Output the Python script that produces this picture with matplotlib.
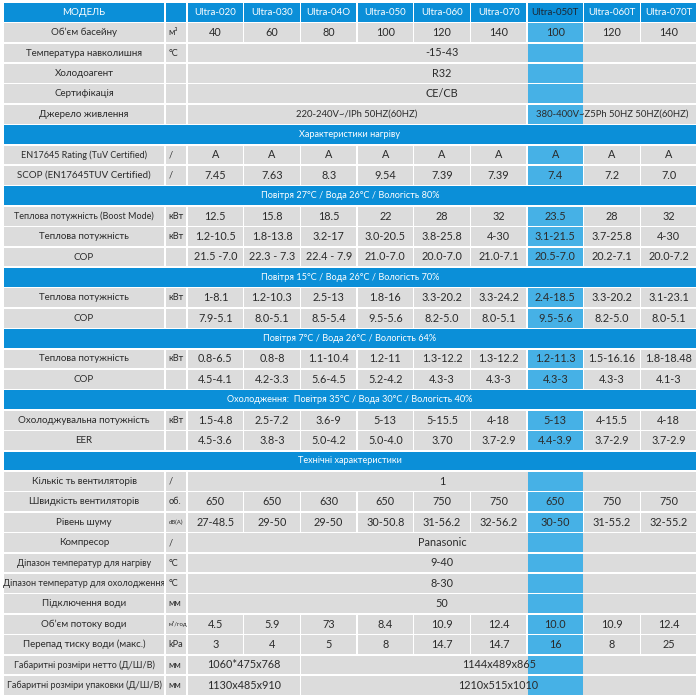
import matplotlib
matplotlib.use("Agg")
import matplotlib.pyplot as plt
from matplotlib.patches import Rectangle
from matplotlib.transforms import Bbox, TransformedBbox

plt.rcParams['font.family'] = ['Lato', 'DejaVu Sans']

# моделі
models = ["Ultra-020", "Ultra-030", "Ultra-04O", "Ultra-050", "Ultra-060",
          "Ultra-070", "Ultra-050T", "Ultra-060T", "Ultra-070T"]
highlight = 6

# дані по рядках
pool_volume = ["40", "60", "80", "100", "120", "140", "100", "120", "140"]
rating = ["A"] * 9
scop = ["7.45", "7.63", "8.3", "9.54", "7.39", "7.39", "7.4", "7.2", "7.0"]
boost_27 = ["12.5", "15.8", "18.5", "22", "28", "32", "23.5", "28", "32"]
heat_27 = ["1.2-10.5", "1.8-13.8", "3.2-17", "3.0-20.5", "3.8-25.8", "4-30", "3.1-21.5", "3.7-25.8", "4-30"]
cop_27 = ["21.5 -7.0", "22.3 - 7.3", "22.4 - 7.9", "21.0-7.0", "20.0-7.0", "21.0-7.1", "20.5-7.0", "20.2-7.1", "20.0-7.2"]
heat_15 = ["1-8.1", "1.2-10.3", "2.5-13", "1.8-16", "3.3-20.2", "3.3-24.2", "2.4-18.5", "3.3-20.2", "3.1-23.1"]
cop_15 = ["7.9-5.1", "8.0-5.1", "8.5-5.4", "9.5-5.6", "8.2-5.0", "8.0-5.1", "9.5-5.6", "8.2-5.0", "8.0-5.1"]
heat_7 = ["0.8-6.5", "0.8-8", "1.1-10.4", "1.2-11", "1.3-12.2", "1.3-12.2", "1.2-11.3", "1.5-16.16", "1.8-18.48"]
cop_7 = ["4.5-4.1", "4.2-3.3", "5.6-4.5", "5.2-4.2", "4.3-3", "4.3-3", "4.3-3", "4.3-3", "4.1-3"]
cool_35 = ["1.5-4.8", "2.5-7.2", "3.6-9", "5-13", "5-15.5", "4-18", "5-13", "4-15.5", "4-18"]
eer_35 = ["4.5-3.6", "3.8-3", "5.0-4.2", "5.0-4.0", "3.70", "3.7-2.9", "4.4-3.9", "3.7-2.9", "3.7-2.9"]
fan_speed = ["650", "650", "630", "650", "750", "750", "650", "750", "750"]
noise = ["27-48.5", "29-50", "29-50", "30-50.8", "31-56.2", "32-56.2", "30-50", "31-55.2", "32-55.2"]
water_flow = ["4.5", "5.9", "73", "8.4", "10.9", "12.4", "10.0", "10.9", "12.4"]
pressure_drop = ["3", "4", "5", "8", "14.7", "14.7", "16", "8", "25"]

# рядки: (тип, підпис, одиниця, дані)
# 'v' - окремі комірки, 'm' - об'єднані комірки [(від, до, текст)], 's' - секція
rows = [
    ("v", "Об’єм басейну", "м³", pool_volume),
    ("m", "Температура навколишня", "°C", [(0, 9, "-15-43")]),
    ("m", "Холодоагент", "", [(0, 9, "R32")]),
    ("m", "Сертифікація", "", [(0, 9, "CE/CB")]),
    ("m", "Джерело живлення", "", [(0, 6, "220-240V~/lPh 50HZ(60HZ)"),
                                  (6, 9, "380-400V~Z5Ph 50HZ 50HZ(60HZ)")]),
    ("s", "Характеристики нагріву", "", None),
    ("v", "EN17645 Rating (TuV Certified)", "/", rating),
    ("v", "SCOP (EN17645TUV Certified)", "/", scop),
    ("s", "Повітря 27°C / Вода 26°C / Вологість 80%", "", None),
    ("v", "Теплова потужність (Boost Mode)", "кВт", boost_27),
    ("v", "Теплова потужність", "кВт", heat_27),
    ("v", "COP", "", cop_27),
    ("s", "Повітря 15°C / Вода 26°C / Вологість 70%", "", None),
    ("v", "Теплова потужність", "кВт", heat_15),
    ("v", "COP", "", cop_15),
    ("s", "Повітря 7°C / Вода 26°C / Вологість 64%", "", None),
    ("v", "Теплова потужність", "кВт", heat_7),
    ("v", "COP", "", cop_7),
    ("s", "Охолодження:  Повітря 35°C / Вода 30°C / Вологість 40%", "", None),
    ("v", "Охолоджувальна потужність", "кВт", cool_35),
    ("v", "EER", "", eer_35),
    ("s", "Технічні характеристики", "", None),
    ("m", "Кількіс ть вентиляторів", "/", [(0, 9, "1")]),
    ("v", "Швидкість вентиляторів", "об.", fan_speed),
    ("v", "Рівень шуму", "dB(A)", noise),
    ("m", "Компресор", "/", [(0, 9, "Panasonic")]),
    ("m", "Діпазон температур для нагріву", "°C", [(0, 9, "9-40")]),
    ("m", "Діпазон температур для охолодження", "°C", [(0, 9, "8-30")]),
    ("m", "Підключення води", "мм", [(0, 9, "50")]),
    ("v", "Об’єм потоку води", "м³/год", water_flow),
    ("v", "Перепад тиску води (макс.)", "kPa", pressure_drop),
    ("m", "Габаритні розміри нетто (Д/Ш/В)", "мм", [(0, 2, "1060*475x768"), (2, 9, "1144x489x865")]),
    ("m", "Габаритні розміри упаковки (Д/Ш/В)", "мм", [(0, 2, "1130x485x910"), (2, 9, "1210x515x1010")]),
]

BLUE = "#0b8fd8"
LIGHT = "#46b1e6"
GRAY = "#dcdcdc"
TXT = "#2b2b2b"

X0, XL, XU, X1 = 3, 165, 187, 697
Y0, RH = 2, 20.4
CW = (X1 - XU) / 9
G = 0.8

fig = plt.figure(figsize=(7, 7), dpi=100)
ax = fig.add_axes([0, 0, 1, 1])
ax.set_xlim(0, 700)
ax.set_ylim(700, 0)
ax.axis("off")


def cell(xa, xb, y, color):
    r = Rectangle((xa + G, y + G), xb - xa - 2 * G, RH - 2 * G, facecolor=color, linewidth=0)
    ax.add_patch(r)
    return r


def colx(i):
    return XU + i * CW


# шапка
y = Y0
cell(X0, XL, y, BLUE)
cell(XL, XU, y, BLUE)
ax.text((X0 + XL) / 2, y + RH / 2, "МОДЕЛЬ", color="white", fontsize=7, ha="center", va="center")
for i, m in enumerate(models):
    cell(colx(i), colx(i + 1), y, BLUE)
    ax.text(colx(i) + CW / 2, y + RH / 2, m, color="#1d2733" if i == highlight else "white",
            fontsize=7, ha="center", va="center")

for k, (kind, label, unit, data) in enumerate(rows):
    y = Y0 + (k + 1) * RH
    yc = y + RH / 2
    if kind == "s":
        r = Rectangle((X0 + G, y + G), X1 - X0 - 2 * G, RH - 2 * G, facecolor=BLUE, linewidth=0)
        ax.add_patch(r)
        ax.text((X0 + X1) / 2, yc, label, color="white", fontsize=6.6, ha="center", va="center")
        continue
    cell(X0, XL, y, GRAY)
    t = ax.text((X0 + XL) / 2, yc, label, color=TXT, fontsize=6.5 if len(label) > 29 else 7,
                ha="center", va="center")
    t.set_clip_box(TransformedBbox(Bbox.from_extents(X0, y, XL - G, y + RH), ax.transData))
    t.set_clip_on(True)
    cell(XL, XU, y, GRAY)
    ax.text(XL + 3.5, yc, unit, color=TXT, fontsize=4.3 if len(unit) > 4 else 6.6, ha="left", va="center")
    if kind == "v":
        for i, v in enumerate(data):
            cell(colx(i), colx(i + 1), y, LIGHT if i == highlight else GRAY)
            ax.text(colx(i) + CW / 2, yc, v, color=TXT, fontsize=7.8, ha="center", va="center")
    else:
        for a, b, v in data:
            cell(colx(a), colx(b), y, GRAY)
        cell(colx(highlight), colx(highlight + 1), y, LIGHT)
        for a, b, v in data:
            ax.text((colx(a) + colx(b)) / 2, yc, v, color=TXT,
                    fontsize=6.8 if len(v) > 14 else 7.8, ha="center", va="center")

fig.savefig("out.png", dpi=100, facecolor="white")
